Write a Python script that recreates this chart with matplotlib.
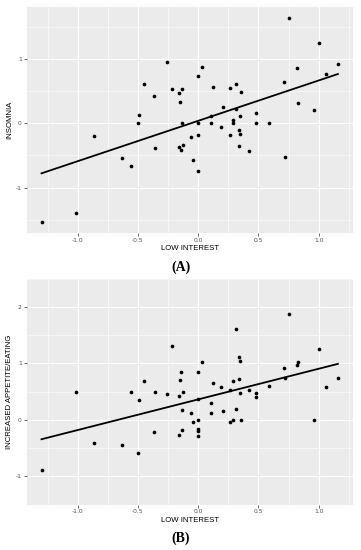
import matplotlib
matplotlib.use("Agg")
import matplotlib.pyplot as plt
import numpy as np

# -----------------------------------------------------------------------------
# Data
# -----------------------------------------------------------------------------

x_a = [-1.301, -1.017, -0.865, -0.633, -0.558, -0.497, -0.489, -0.450, -0.367,
       -0.359, -0.257, -0.218, -0.163, -0.160, -0.152, -0.144, -0.133, -0.133,
       -0.130, -0.061, -0.044, 0.000, 0.028, 0.000, 0.000, 0.000, 0.110, 0.110,
       0.124, 0.193, 0.204, 0.265, 0.265, 0.285, 0.285, 0.318, 0.318, 0.340,
       0.345, 0.337, 0.351, 0.356, 0.420, 0.483, 0.483, 0.586, 0.710, 0.724,
       0.754, 0.820, 0.831, 0.964, 1.003, 1.064, 1.160]
insomnia = [-1.544, -1.404, -0.197, -0.534, -0.668, 0.000, 0.135, 0.617, 0.425,
            -0.389, 0.948, 0.534, -0.363, 0.472, 0.332, -0.409, 0.528, 0.000,
            -0.342, -0.215, -0.565, 0.736, 0.876, 0.000, -0.178, -0.741, 0.119,
            0.000, 0.560, -0.052, 0.259, 0.544, -0.181, 0.047, 0.010, 0.617,
            0.228, -0.104, -0.171, -0.352, 0.109, 0.482, -0.430, 0.161, 0.000,
            0.000, 0.648, -0.528, 1.648, 0.855, 0.316, 0.212, 1.249, 0.772,
            0.922]

x_b = [-1.301, -1.017, -0.865, -0.633, -0.558, -0.497, -0.489, -0.453, -0.367,
       -0.359, -0.257, -0.218, -0.163, -0.160, -0.152, -0.141, -0.133, -0.133,
       -0.130, -0.061, -0.044, 0.000, 0.028, 0.000, 0.000, 0.000, 0.000, 0.000,
       0.110, 0.110, 0.124, 0.193, 0.204, 0.265, 0.265, 0.287, 0.285, 0.318,
       0.318, 0.337, 0.345, 0.337, 0.345, 0.356, 0.420, 0.483, 0.483, 0.586,
       0.710, 0.724, 0.754, 0.820, 0.829, 0.961, 1.003, 1.064, 1.160]
appetite = [-0.879, 0.502, -0.413, -0.444, 0.502, -0.578, 0.354, 0.682, -0.220,
            0.502, 0.457, 1.314, -0.265, 0.422, 0.704, 0.857, 0.175, -0.175,
            0.502, 0.121, -0.045, 0.857, 1.027, 0.372, 0.000, -0.157, -0.188,
            -0.278, 0.305, 0.121, 0.655, 0.578, 0.161, 0.534, -0.031, 0.695,
            0.000, 1.619, 0.197, 1.108, 1.036, 0.722, 0.484, 0.000, 0.525,
            0.471, 0.404, 0.605, 0.928, 0.749, 1.883, 0.973, 1.031, 0.000,
            1.260, 0.578, 0.749]

x_label = "LOW INTEREST"
y_labels = ["INSOMNIA", "INCREASED APPETITE/EATING"]
panel_tags = ["(A)", "(B)"]
x_major = [-1.0, -0.5, 0.0, 0.5, 1.0]


# -----------------------------------------------------------------------------
# One ggplot-like panel
# -----------------------------------------------------------------------------

def gg_panel(ax, x, y, ylabel, y_major):
    x = np.asarray(x)
    y = np.asarray(y)
    ax.set_facecolor("#EBEBEB")
    for s in ax.spines.values():
        s.set_visible(False)

    # ggplot default 5% expansion
    xr = x.max() - x.min()
    yr = y.max() - y.min()
    ax.set_xlim(x.min() - 0.05 * xr, x.max() + 0.05 * xr)
    ax.set_ylim(y.min() - 0.05 * yr, y.max() + 0.05 * yr)

    ax.set_xticks(x_major)
    ax.set_xticklabels([f"{v:.1f}" for v in x_major])
    ax.set_xticks([v + 0.25 for v in [-1.5] + x_major], minor=True)
    ax.set_yticks(y_major)
    ax.set_yticklabels([f"{v:d}" for v in y_major])
    ax.set_yticks([v + 0.5 for v in [y_major[0] - 1] + y_major], minor=True)
    ax.grid(True, which="major", color="white", linewidth=0.8)
    ax.grid(True, which="minor", color="white", linewidth=0.4)
    ax.set_axisbelow(True)
    ax.tick_params(which="major", length=2, width=0.5, color="#333333",
                   labelsize=4.3, labelcolor="#4D4D4D", pad=1.5)
    ax.tick_params(which="minor", length=0)

    ax.scatter(x, y, s=7, color="black", zorder=3, linewidths=0)

    # least-squares line (geom_smooth method = lm, se = FALSE)
    slope, icpt = np.polyfit(x, y, 1)
    xs = np.array([x.min(), x.max()])
    ax.plot(xs, icpt + slope * xs, color="black", linewidth=1.3, zorder=4)

    ax.set_xlabel(x_label, fontsize=5.6, family="Liberation Sans", labelpad=1.5)
    ax.set_ylabel(ylabel, fontsize=5.6, family="Liberation Sans", labelpad=2)


fig = plt.figure(figsize=(3.61, 5.50), dpi=100)
ax_a = fig.add_axes([0.074, 0.5769, 0.903, 0.4098])
ax_b = fig.add_axes([0.074, 0.0825, 0.903, 0.4106])

gg_panel(ax_a, x_a, insomnia, y_labels[0], [-1, 0, 1])
gg_panel(ax_b, x_b, appetite, y_labels[1], [-1, 0, 1, 2])

fig.text(0.50, 1 - 267 / 550, panel_tags[0], ha="center", va="center",
         fontsize=10, fontweight="bold", family="Liberation Serif")
fig.text(0.50, 1 - 538 / 550, panel_tags[1], ha="center", va="center",
         fontsize=10, fontweight="bold", family="Liberation Serif")

fig.savefig("out.png", dpi=100)
